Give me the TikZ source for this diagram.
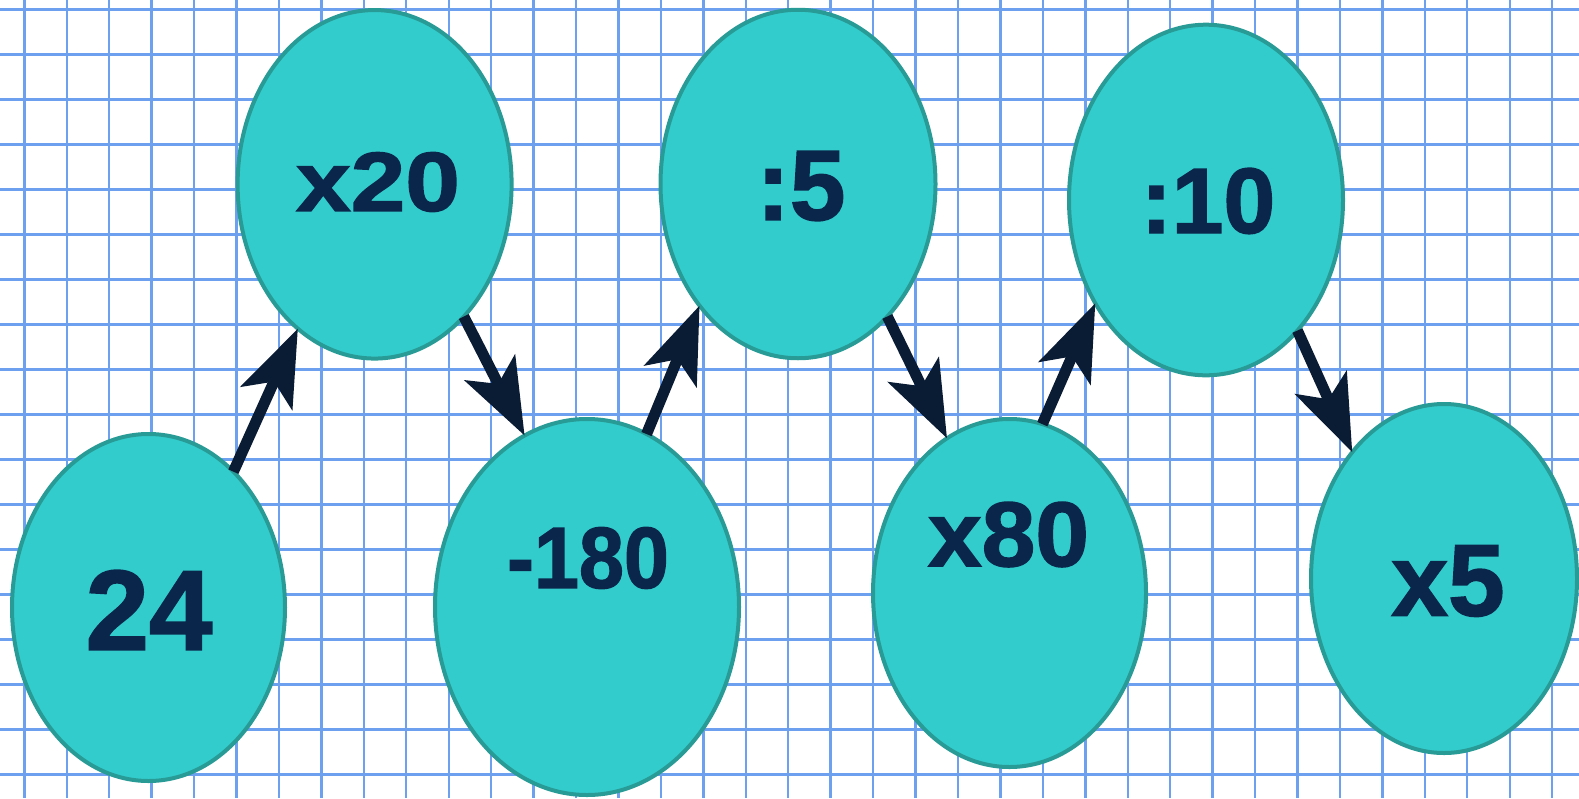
\documentclass[tikz,border=0pt]{standalone}
\usepackage{fontspec}
\usepackage{graphicx}
\setmainfont{Liberation Sans}[BoldFeatures={FakeBold=1.5}]
\usetikzlibrary{shapes.geometric,arrows.meta}
\definecolor{gridcol}{RGB}{110,160,240}
\definecolor{bubfill}{RGB}{51,204,204}
\definecolor{bubline}{RGB}{40,155,150}
\definecolor{txtcol}{RGB}{10,38,75}
\definecolor{arrcol}{RGB}{10,27,52}
\tikzset{
  gridline/.style={draw=gridcol, line width=1.2pt},
  bub/.style={ellipse, draw=bubline, fill=bubfill, line width=2pt, inner sep=0pt, outer sep=0pt},
  lbl/.style={text=txtcol, inner sep=0pt, anchor=center},
  arr/.style={draw=arrcol, line width=5.5pt, -{Stealth[length=38pt,width=28pt,inset=9pt]}}
}
\newcommand{\fs}[1]{\fontsize{#1}{#1}\selectfont\bfseries}
\begin{document}
\begin{tikzpicture}[x=0.5pt,y=-0.5pt]
\useasboundingbox (0,0) rectangle (1579,798);
\fill[white] (0,0) rectangle (1579,798);
\foreach \k in {0,...,36} \draw[gridline] ({24.3+42.44*\k},0) -- ++(0,798);
\foreach \k in {0,...,17} \draw[gridline] (0,{9.3+45*\k}) -- ++(1579,0);

\node[bub, minimum width=136.5pt, minimum height=173.5pt] (e1) at (148.5,607.5) {};
\node[bub, minimum width=137pt, minimum height=174.25pt] (e2) at (374.6,184.3) {};
\node[bub, minimum width=152pt, minimum height=188pt] (e3) at (587,607) {};
\node[bub, minimum width=137.5pt, minimum height=174.25pt] (e4) at (798,184) {};
\node[bub, minimum width=136.5pt, minimum height=174pt] (e5) at (1009.5,593) {};
\node[bub, minimum width=137pt, minimum height=175.3pt] (e6) at (1206,200) {};
\node[bub, minimum width=133pt, minimum height=174.5pt] (e7) at (1444,578.5) {};

\node[lbl, font=\fs{57}] (t1) at (149,610) {24};
\node[lbl, font=\fs{42}] (t2) at (378,182) {\scalebox{1.17}[1]{x20}};
\node[lbl, font=\fs{43.5}] (t3) at (588,558) {\scalebox{0.93}[1]{-180}};
\node[lbl, font=\fs{50}] (t4) at (801,186) {:5};
\node[lbl, font=\fs{46}] (t5) at (1008.5,534.5) {\scalebox{1.05}[1]{x80}};
\node[lbl, font=\fs{46.5}] (t6) at (1208,201) {:10};
\node[lbl, font=\fs{51}] (t7) at (1448,581) {x5};

\draw[arr] (e1.58) -- (e2.242.6);
\draw[arr] (e2.304.7) -- (e3.110.9);
\draw[arr] (e3.71.7) -- (e4.231);
\draw[arr] (e4.304.2) -- (e5.112.5);
\draw[arr] (e5.79.8) -- (e6.223);
\draw[arr] (e6.305.3) -- (e7.126.6);
\end{tikzpicture}
\end{document}
